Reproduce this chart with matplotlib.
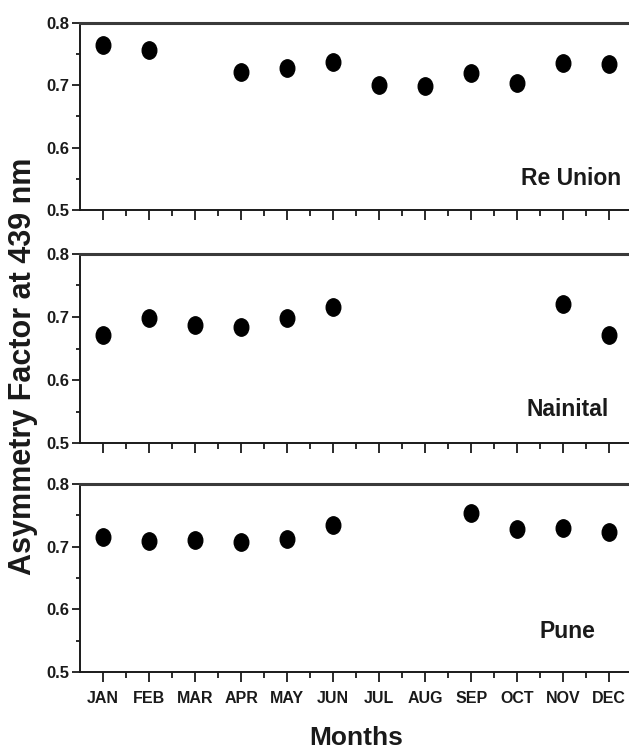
import numpy as np
import matplotlib

matplotlib.use("Agg")
from matplotlib import pyplot as plt
from matplotlib.path import Path
from matplotlib.transforms import Affine2D
from matplotlib.ticker import MultipleLocator

months = ["JAN", "FEB", "MAR", "APR", "MAY", "JUN",
          "JUL", "AUG", "SEP", "OCT", "NOV", "DEC"]
month_pos = np.arange(1, 13)

# nan = no observation for that month
reunion = [0.765, 0.756, np.nan, 0.722, 0.727, 0.738,
           0.700, 0.699, 0.720, 0.704, 0.735, 0.734]
nainital = [0.671, 0.698, 0.687, 0.684, 0.699, 0.716,
            np.nan, np.nan, np.nan, np.nan, 0.720, 0.672]
pune = [0.716, 0.709, 0.710, 0.707, 0.712, 0.735,
        np.nan, np.nan, 0.753, 0.729, 0.730, 0.723]

stations = ["Re Union", "Nainital", "Pune"]
series = [reunion, nainital, pune]

NARROW = ["Liberation Sans Narrow", "Liberation Sans", "DejaVu Sans"]
WIDE = ["Liberation Sans", "DejaVu Sans"]
INK = "#1a1a1a"

fig = plt.figure(figsize=(6.29, 7.51), dpi=100)
fig.patch.set_facecolor("white")

# panel boxes in figure fractions: left, bottom, width, height
boxes = [
    [0.1272, 0.7204, 0.878, 0.249],
    [0.1272, 0.4101, 0.878, 0.2517],
    [0.1272, 0.1052, 0.878, 0.2503],
]
label_xy = [(0.889, 0.171), (0.883, 0.175), (0.883, 0.218)]

# slightly tall dot, like the squeezed original
dot = Path.unit_circle().transformed(Affine2D().scale(0.84, 1.0))

for i, (box, name, values) in enumerate(zip(boxes, stations, series)):
    ax = fig.add_axes(box)
    ax.plot(month_pos, values, linestyle="none", marker=dot,
            markersize=12.5, color="black", zorder=3)

    ax.set_xlim(0.5, 12.5)
    ax.set_ylim(0.5, 0.8)
    ax.set_xticks(month_pos)
    ax.set_xticks(month_pos + 0.5, minor=True)
    ax.yaxis.set_major_locator(MultipleLocator(0.1))
    ax.yaxis.set_minor_locator(MultipleLocator(0.05))

    ax.tick_params(axis="x", which="major", direction="out", length=7.5,
                   width=1.3, color=INK, pad=6)
    ax.tick_params(axis="x", which="minor", direction="out", length=4,
                   width=1.3, color=INK)
    ax.tick_params(axis="y", which="major", direction="out", length=5.5,
                   width=1.3, color=INK, pad=2)
    ax.tick_params(axis="y", which="minor", direction="out", length=3,
                   width=1.3, color=INK)
    ax.tick_params(top=False, right=False, which="both")

    ax.set_yticks([0.5, 0.6, 0.7, 0.8])
    ax.set_yticklabels(["0.5", "0.6", "0.7", "0.8"], family=NARROW,
                       weight="bold", fontsize=12, color=INK)
    if i == 2:
        ax.set_xticklabels(months, family=NARROW, weight="bold",
                           fontsize=11.5, color=INK)
    else:
        ax.set_xticklabels([])

    for side in ["left", "bottom"]:
        ax.spines[side].set_linewidth(1.4)
        ax.spines[side].set_color(INK)
    ax.spines["top"].set_linewidth(2.2)
    ax.spines["top"].set_color("#3a3a3a")
    ax.spines["right"].set_visible(False)

    ax.text(label_xy[i][0], label_xy[i][1], name, transform=ax.transAxes,
            ha="center", va="center", family=NARROW, weight="bold",
            fontsize=16.5, color=INK)

fig.text(0.0366, 0.5127, "Asymmetry Factor at 439 nm", rotation=90,
         ha="center", va="center", family=WIDE, weight="bold",
         fontsize=22, color=INK)
fig.text(0.566, 0.0173, "Months", ha="center", va="center",
         family=NARROW, weight="bold", fontsize=19, color=INK)

fig.savefig("out.png", dpi=100, facecolor="white")
plt.close(fig)
